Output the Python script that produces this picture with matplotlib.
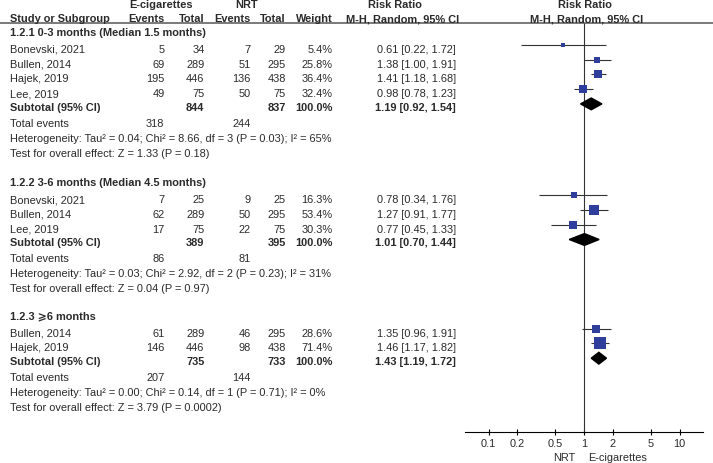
import numpy as np
import matplotlib.pyplot as plt
from matplotlib.patches import Polygon

plt.rcParams['font.family'] = ['Liberation Sans', 'DejaVu Sans']

# ---- data -------------------------------------------------------------
group_titles = ["1.2.1 0-3 months (Median 1.5 months)",
                "1.2.2 3-6 months (Median 4.5 months)",
                "1.2.3 \u2a7e6 months"]

studies = [["Bonevski, 2021", "Bullen, 2014", "Hajek, 2019", "Lee, 2019"],
           ["Bonevski, 2021", "Bullen, 2014", "Lee, 2019"],
           ["Bullen, 2014", "Hajek, 2019"]]
ecig_events = [[5, 69, 195, 49], [7, 62, 17], [61, 146]]
ecig_total = [[34, 289, 446, 75], [25, 289, 75], [289, 446]]
nrt_events = [[7, 51, 136, 50], [9, 50, 22], [46, 98]]
nrt_total = [[29, 295, 438, 75], [25, 295, 75], [295, 438]]
weights = [[5.4, 25.8, 36.4, 32.4], [16.3, 53.4, 30.3], [28.6, 71.4]]
rr = [[0.61, 1.38, 1.41, 0.98], [0.78, 1.27, 0.77], [1.35, 1.46]]
rr_lo = [[0.22, 1.00, 1.18, 0.78], [0.34, 0.91, 0.45], [0.96, 1.17]]
rr_hi = [[1.72, 1.91, 1.68, 1.23], [1.76, 1.77, 1.33], [1.91, 1.82]]

sub_ecig_total = [844, 389, 735]
sub_nrt_total = [837, 395, 733]
sub_rr = [1.19, 1.01, 1.43]
sub_lo = [0.92, 0.70, 1.19]
sub_hi = [1.54, 1.44, 1.72]
tot_ecig_events = [318, 86, 207]
tot_nrt_events = [244, 81, 144]
heterogeneity = ["Heterogeneity: Tau\u00b2 = 0.04; Chi\u00b2 = 8.66, df = 3 (P = 0.03); I\u00b2 = 65%",
                 "Heterogeneity: Tau\u00b2 = 0.03; Chi\u00b2 = 2.92, df = 2 (P = 0.23); I\u00b2 = 31%",
                 "Heterogeneity: Tau\u00b2 = 0.00; Chi\u00b2 = 0.14, df = 1 (P = 0.71); I\u00b2 = 0%"]
overall = ["Test for overall effect: Z = 1.33 (P = 0.18)",
           "Test for overall effect: Z = 0.04 (P = 0.97)",
           "Test for overall effect: Z = 3.79 (P = 0.0002)"]

ticks = [0.1, 0.2, 0.5, 1, 2, 5, 10]
tick_labels = ["0.1", "0.2", "0.5", "1", "2", "5", "10"]

# ---- figure -----------------------------------------------------------
W, H = 713, 464
fig = plt.figure(figsize=(W / 100, H / 100), dpi=100)
ax = fig.add_axes([0, 0, 1, 1])
ax.set_xlim(0, W)
ax.set_ylim(H, 0)
ax.axis("off")

# forest panel, log scale, same pixel rows
px_per_dec = 95.5
x_null, x_left, x_right = 584, 465, 703
fx = fig.add_axes([x_left / W, 0, (x_right - x_left) / W, 1])
fx.set_xscale("log")
fx.set_xlim(10 ** ((x_left - x_null) / px_per_dec), 10 ** ((x_right - x_null) / px_per_dec))
fx.set_ylim(H, 0)
fx.patch.set_alpha(0)
for s in ["top", "left", "right"]:
    fx.spines[s].set_visible(False)
axis_y = 433
fx.spines["bottom"].set_position(("data", axis_y))
fx.spines["bottom"].set_linewidth(0.8)
fx.set_yticks([])
fx.set_xticks(ticks)
fx.set_xticklabels(tick_labels)
fx.xaxis.set_minor_locator(plt.NullLocator())

fs = 7.95
tc = "#2a2a2a"
fx.tick_params(axis="x", direction="inout", length=5, width=0.8, pad=2,
               labelsize=fs, labelcolor=tc)
col_x = [164.5, 204.5, 250.5, 286, 332.5]
rr_x = 456
sq_color = "#2F3E9B"
line_color = "#333333"


def txt(x, y, s, ha="left", bold=False):
    ax.text(x, y, s, ha=ha, va="center", fontsize=fs, color=tc,
            fontweight="bold" if bold else "normal")


# header
txt(129, 5, "E-cigarettes", bold=True)
txt(235, 5, "NRT", bold=True)
txt(395, 5, "Risk Ratio", ha="center", bold=True)
txt(585, 5, "Risk Ratio", ha="center", bold=True)
txt(10, 19, "Study or Subgroup", bold=True)
for x, s in zip(col_x, ["Events", "Total", "Events", "Total", "Weight"]):
    txt(x, 19, s, ha="right", bold=True)
txt(403, 19, "M-H, Random, 95% CI", ha="center", bold=True)
txt(587, 19, "M-H, Random, 95% CI", ha="center", bold=True)
ax.axhline(24, color="#7a7a7a", lw=1.4)

# null line
fx.vlines(1, 24, axis_y, color=line_color, lw=0.8)

mark_dy = -4
group_starts = [33, 183.3, 316.7]
for g in range(3):
    y = group_starts[g]
    txt(10, y, group_titles[g], bold=True)
    y += 17
    for i, name in enumerate(studies[g]):
        txt(10, y, name)
        vals = [ecig_events[g][i], ecig_total[g][i], nrt_events[g][i], nrt_total[g][i]]
        for x, v in zip(col_x[:4], vals):
            txt(x, y, str(v), ha="right")
        txt(col_x[4], y, "%.1f%%" % weights[g][i], ha="right")
        txt(rr_x, y, "%.2f [%.2f, %.2f]" % (rr[g][i], rr_lo[g][i], rr_hi[g][i]), ha="right")
        ym = y + mark_dy
        fx.hlines(ym, rr_lo[g][i], rr_hi[g][i], color=line_color, lw=0.8)
        side_pt = 1.35 * np.sqrt(weights[g][i]) * 0.72
        fx.scatter([rr[g][i]], [ym], marker="s", s=side_pt ** 2, color=sq_color,
                   linewidths=0, zorder=3)
        y += 14.7
    y -= 0.9
    txt(10, y, "Subtotal (95% CI)", bold=True)
    txt(col_x[1], y, str(sub_ecig_total[g]), ha="right", bold=True)
    txt(col_x[3], y, str(sub_nrt_total[g]), ha="right", bold=True)
    txt(col_x[4], y, "100.0%", ha="right", bold=True)
    txt(rr_x, y, "%.2f [%.2f, %.2f]" % (sub_rr[g], sub_lo[g], sub_hi[g]), ha="right", bold=True)
    ym = y + mark_dy + 1
    hh = 5.9
    fx.add_patch(Polygon([(sub_lo[g], ym), (sub_rr[g], ym - hh), (sub_hi[g], ym),
                          (sub_rr[g], ym + hh)], closed=True, color="black", zorder=3))
    y += 16
    txt(10, y, "Total events")
    txt(col_x[0], y, str(tot_ecig_events[g]), ha="right")
    txt(col_x[2], y, str(tot_nrt_events[g]), ha="right")
    y += 15
    txt(10, y, heterogeneity[g])
    y += 15
    txt(10, y, overall[g])

# axis captions
txt(564, 458, "NRT", ha="center")
txt(618, 458, "E-cigarettes", ha="center")

fig.savefig("out.png", dpi=100)
